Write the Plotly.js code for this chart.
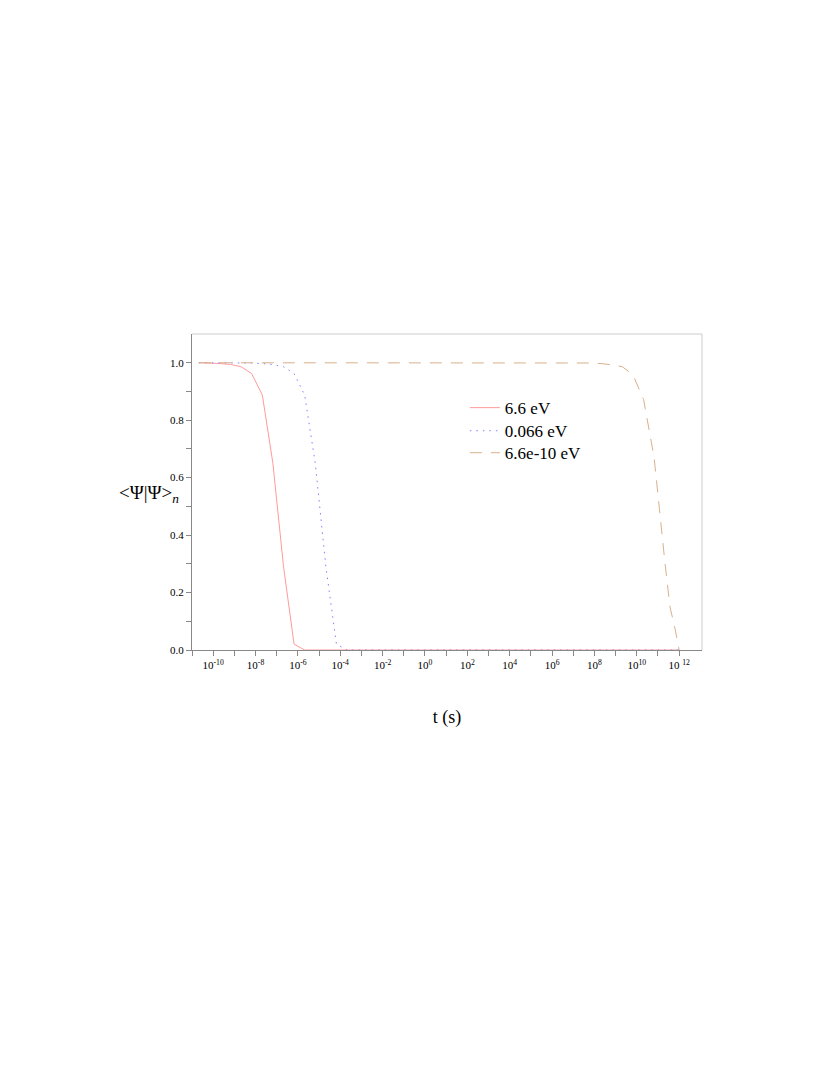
<!DOCTYPE html>
<html>
<head>
<meta charset="utf-8">
<script src="https://cdn.plot.ly/plotly-3.0.1.min.js"></script>
<style>
  body { margin: 0; background: #fff; }
  #chart { width: 814px; height: 1066px; }
</style>
</head>
<body>
<div id="chart"></div>
<script>
// series names
const seriesNames = ['6.6 eV', '0.066 eV', '6.6e-10 eV'];

// t (s) and <Psi|Psi>_n
const tRed = [2.1e-11, 6.6e-11, 2.1e-10, 6.6e-10, 2.1e-9, 6.6e-9, 2.1e-8, 6.6e-8, 2.1e-7, 6.6e-7, 2.1e-6, 1e12];
const psiRed = [1.0, 0.999, 0.997, 0.994, 0.986, 0.962, 0.887, 0.65, 0.29, 0.02, 0.0, 0.0];

const tBlue = [2.1e-11, 2.1e-9, 6.6e-9, 2.1e-8, 6.6e-8, 2.1e-7, 6.6e-7, 2.1e-6, 6.6e-6, 2.1e-5, 6.6e-5, 2.1e-4, 1e12];
const psiBlue = [1.0, 1.0, 0.999, 0.997, 0.994, 0.986, 0.962, 0.887, 0.65, 0.29, 0.02, 0.0, 0.0];

const tOrange = [2.1e-11, 2.1e7, 6.6e7, 2.1e8, 6.6e8, 2.1e9, 6.6e9, 2.1e10, 6.6e10, 2.1e11, 3.7e11, 6.6e11, 1e12];
const psiOrange = [1.0, 1.0, 0.999, 0.997, 0.993, 0.986, 0.958, 0.872, 0.67, 0.31, 0.15, 0.07, 0.0];

// axis ticks
const xTickVals = [1e-11, 1e-10, 1e-9, 1e-8, 1e-7, 1e-6, 1e-5, 1e-4, 1e-3, 1e-2, 1e-1, 1, 10, 100, 1e3, 1e4, 1e5, 1e6, 1e7, 1e8, 1e9, 1e10, 1e11, 1e12];
const xTickText = ['', '10<sup>-10</sup>', '', '10<sup>-8</sup>', '', '10<sup>-6</sup>', '', '10<sup>-4</sup>', '', '10<sup>-2</sup>', '',
  '10<sup>0</sup>', '', '10<sup>2</sup>', '', '10<sup>4</sup>', '', '10<sup>6</sup>', '', '10<sup>8</sup>', '', '10<sup>10</sup>', '', '10 <sup>12</sup>'];
const yTickVals = [0, 0.1, 0.2, 0.3, 0.4, 0.5, 0.6, 0.7, 0.8, 0.9, 1.0];
const yTickText = ['0.0', '', '0.2', '', '0.4', '', '0.6', '', '0.8', '', '1.0'];

const serif = '"Liberation Serif", "Times New Roman", serif';

let data = [
  {
    x: tRed, y: psiRed, mode: 'lines', name: seriesNames[0], legend: 'legend',
    line: { color: '#ff9a9a', width: 1 }
  },
  {
    x: tBlue, y: psiBlue, mode: 'lines', name: seriesNames[1], legend: 'legend2',
    line: { color: '#8080ff', width: 1, dash: '1.5px,5px' }
  },
  {
    x: tOrange, y: psiOrange, mode: 'lines', name: seriesNames[2], legend: 'legend3',
    line: { color: '#d9b08a', width: 1, dash: '12px,9px' }
  }
];

// one legend per entry so the rows can sit as close as in the picture
function legendAt(y) {
  return {
    x: 0.535, y: y, xanchor: 'left', yanchor: 'top',
    bgcolor: 'rgba(0,0,0,0)',
    font: { family: serif, size: 17 }
  };
}

let layout = {
  width: 814,
  height: 1066,
  margin: { l: 192, r: 112, t: 334, b: 416 },
  paper_bgcolor: '#fff',
  plot_bgcolor: '#fff',
  font: { family: serif, color: '#000', size: 11 },
  showlegend: true,
  legend: legendAt(0.8225),
  legend2: legendAt(0.7494),
  legend3: legendAt(0.6798),
  xaxis: {
    type: 'log',
    range: [-11, 13.08],
    tickvals: xTickVals,
    ticktext: xTickText,
    ticks: 'outside',
    ticklen: 5,
    tickcolor: '#888',
    showline: true,
    linecolor: '#888',
    showgrid: false,
    zeroline: false,
    tickfont: { family: serif, size: 11 },
    title: { text: 't (s)', font: { family: serif, size: 18 }, standoff: 40 }
  },
  yaxis: {
    range: [0, 1.1],
    tickvals: yTickVals,
    ticktext: yTickText,
    ticks: 'outside',
    ticklen: 5,
    tickcolor: '#888',
    showline: true,
    linecolor: '#888',
    showgrid: false,
    zeroline: false,
    tickfont: { family: serif, size: 11 }
  },
  shapes: [
    { type: 'line', xref: 'paper', yref: 'paper', x0: 0, x1: 1, y0: 1, y1: 1, line: { color: '#cccccc', width: 1 } },
    { type: 'line', xref: 'paper', yref: 'paper', x0: 1, x1: 1, y0: 0, y1: 1, line: { color: '#cccccc', width: 1 } }
  ],
  annotations: [
    {
      xref: 'paper', yref: 'paper', x: -0.022, y: 0.494, xanchor: 'right', yanchor: 'middle',
      showarrow: false,
      text: '&lt;Ψ|Ψ&gt;<sub><i>n</i></sub>',
      font: { family: serif, size: 19 }
    }
  ]
};

Plotly.newPlot('chart', data, layout, { staticPlot: true });
</script>
</body>
</html>
